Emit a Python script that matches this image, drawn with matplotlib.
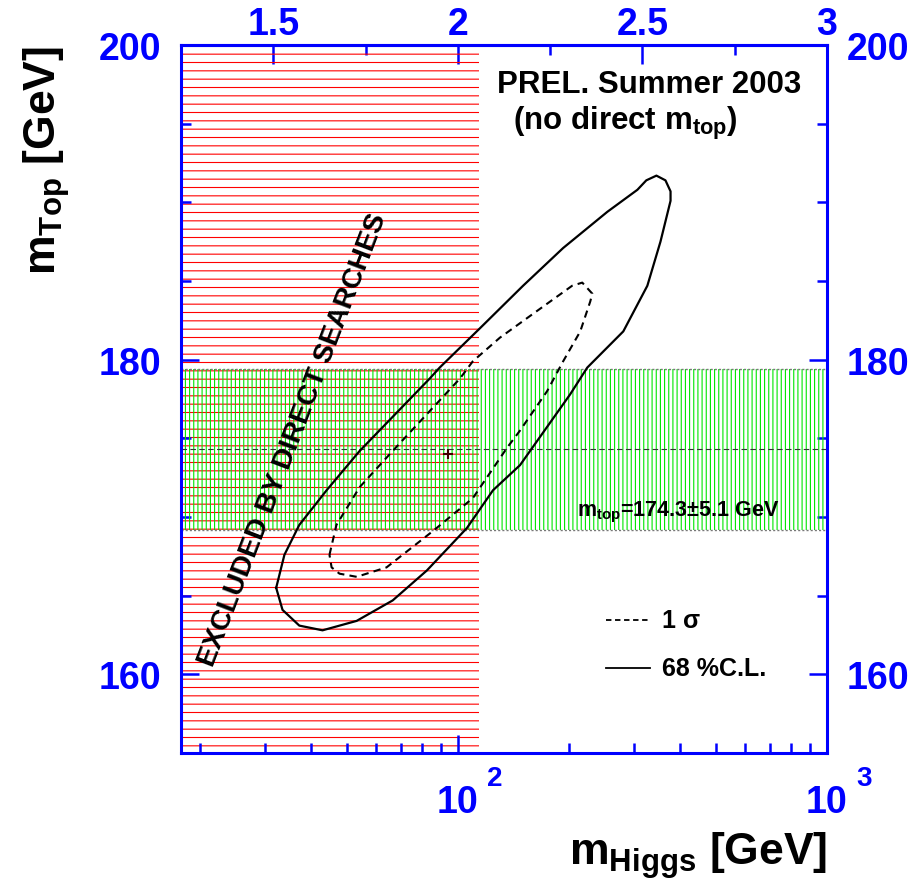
import numpy as np
import matplotlib
matplotlib.use('Agg')
import matplotlib.pyplot as plt
from matplotlib.ticker import MultipleLocator, LogLocator, NullFormatter, FixedLocator
from matplotlib.lines import Line2D

plt.rcParams['font.family'] = ['Liberation Sans', 'DejaVu Sans']
plt.rcParams['font.weight'] = 'bold'
plt.rcParams['mathtext.default'] = 'regular'
plt.rcParams['hatch.linewidth'] = 0.8

# 68% C.L. contour (m_Higgs [GeV], m_top [GeV])
higgs_68 = [32.2, 33.9, 37.2, 44.1, 54.2, 83.9, 89.3, 114.8, 150.2, 192.9, 254.1, 306.5,
            324.0, 345.1, 365.1, 376.9, 376.9, 353.9, 326.1, 280.7, 224.2, 201.5, 147.4,
            124.5, 105.8, 82.4, 66.6, 53.2, 43.0, 37.2, 33.5]
top_68 = [165.5, 167.6, 169.5, 171.7, 174.2, 178.8, 179.5, 182.0, 184.7, 187.1, 189.4, 190.8,
          191.4, 191.7, 191.4, 190.7, 190.1, 187.5, 184.7, 181.8, 179.5, 177.8, 173.3,
          171.7, 169.3, 166.6, 164.7, 163.4, 162.8, 163.1, 164.1]

# 1 sigma contour
higgs_1s = [44.9, 46.9, 54.2, 66.6, 101.3, 109.8, 130.0, 163.9, 204.0, 217.3, 231.3, 228.4,
            214.6, 192.9, 174.5, 147.4, 135.9, 109.8, 85.5, 64.1, 53.2, 47.8, 45.5]
top_1s = [167.6, 169.5, 171.9, 174.2, 178.8, 179.9, 181.4, 183.1, 184.7, 184.9, 184.2, 183.7,
          181.8, 179.9, 178.0, 175.5, 174.4, 171.2, 169.1, 166.8, 166.2, 166.4, 166.8]

fit_higgs = 94.0
fit_top = 174.0
mtop_meas = 174.3
mtop_err = 5.1
higgs_excluded = 114.4

x_range = (10**1.25, 1000)
y_range = (155, 200)
decades = [100, 1000]
decade_exp = ['2', '3']
top_ticks = [1.5, 2.0, 2.5, 3.0]
top_labels = ['1.5', '2', '2.5', '3']
top_minor = [1.75, 2.25, 2.75]

fig = plt.figure(figsize=(9.15, 8.87), dpi=100)
ax = fig.add_axes([0.1978, 0.1499, 0.706, 0.7982])
ax.set_xscale('log')
ax.set_xlim(*x_range)
ax.set_ylim(*y_range)

# excluded region: horizontal red hatching
ax.axvspan(x_range[0], higgs_excluded, facecolor='none', edgecolor='#ff0000',
           hatch='--', lw=0, zorder=1)

# measured m_top band: vertical green hatching
lo, hi = mtop_meas - mtop_err, mtop_meas + mtop_err
ax.axhspan(lo, hi, facecolor='none', edgecolor='#00e600', hatch='||||', lw=0, zorder=2)
ax.axhline(lo, color='#777777', lw=1.0, ls=(0, (1.5, 1.5)), zorder=3)
ax.axhline(hi, color='#777777', lw=1.0, ls=(0, (1.5, 1.5)), zorder=3)
ax.axhline(mtop_meas, color='#333333', lw=0.8, ls=(0, (5, 3)), zorder=3)

# contours
ax.plot(higgs_68 + higgs_68[:1], top_68 + top_68[:1], color='black', lw=1.6, zorder=5)
ax.plot(higgs_1s + higgs_1s[:1], top_1s + top_1s[:1], color='black', lw=1.5,
        ls=(0, (3.5, 2.5)), zorder=5)
ax.plot([fit_higgs], [fit_top], marker='+', ms=7, mew=1.5, color='#400000', zorder=6)

# texts
ax.text(0.489, 0.934, 'PREL. Summer 2003', transform=ax.transAxes, fontsize=22.5,
        fontweight='bold', ha='left', va='baseline')
ax.text(0.514, 0.881, '(no direct $m_{top}$)', transform=ax.transAxes, fontsize=22.5,
        fontweight='bold', ha='left', va='baseline')
ax.text(0.174, 0.4435, 'EXCLUDED BY DIRECT SEARCHES', transform=ax.transAxes,
        fontsize=20.5, fontweight='bold', rotation=69, ha='center', va='center',
        rotation_mode='anchor', zorder=7)
ax.text(0.613, 0.335, '$m_{top}$=174.3\u00b15.1 GeV', transform=ax.transAxes,
        fontsize=15.5, fontweight='bold', ha='left', va='baseline', zorder=7)

# legend
ax.add_line(Line2D([0.658, 0.726], [0.188, 0.188], transform=ax.transAxes,
                   color='black', lw=1.3, ls=(0, (3, 2))))
ax.add_line(Line2D([0.658, 0.726], [0.120, 0.120], transform=ax.transAxes,
                   color='black', lw=1.3))
ax.text(0.745, 0.188, '1 \u03c3', transform=ax.transAxes, fontsize=18,
        fontweight='bold', ha='left', va='center')
ax.text(0.745, 0.120, '68 %C.L.', transform=ax.transAxes, fontsize=18,
        fontweight='bold', ha='left', va='center')

# axes styling
for s in ax.spines.values():
    s.set_color('blue')
    s.set_linewidth(2.2)
    s.set_zorder(10)

ax.yaxis.set_major_locator(MultipleLocator(20))
ax.yaxis.set_minor_locator(MultipleLocator(5))
ax.xaxis.set_major_locator(LogLocator(base=10))
ax.xaxis.set_minor_locator(LogLocator(base=10, subs=np.arange(2, 10)))
ax.xaxis.set_major_formatter(NullFormatter())
ax.xaxis.set_minor_formatter(NullFormatter())

ax.tick_params(which='both', direction='in', colors='blue', width=1.8,
               top=False, right=True, labelright=True, labelleft=True, labelsize=27)
ax.tick_params(which='major', length=13)
ax.tick_params(which='minor', length=7)
ax.tick_params(axis='y', which='major', pad=14.5)
for lab in ax.get_yticklabels():
    lab.set_fontweight('bold')

# ROOT-style 10^n labels on the bottom axis
for d, e in zip(decades, decade_exp):
    ax.annotate('10', xy=(d, 0), xycoords=('data', 'axes fraction'), xytext=(0, -22),
                textcoords='offset points', ha='center', va='top', fontsize=27,
                fontweight='bold', color='blue', annotation_clip=False)
    ax.annotate(e, xy=(d, 0), xycoords=('data', 'axes fraction'), xytext=(21, -8.5),
                textcoords='offset points', ha='left', va='top', fontsize=20,
                fontweight='bold', color='blue', annotation_clip=False)

# log10(m_Higgs) on top
sec = ax.secondary_xaxis('top', functions=(np.log10, lambda v: 10**v))
sec.xaxis.set_major_locator(FixedLocator(top_ticks))
sec.xaxis.set_minor_locator(FixedLocator(top_minor))
sec.xaxis.set_minor_formatter(NullFormatter())
sec.set_xticks(top_ticks, top_labels)
sec.tick_params(which='both', direction='in', colors='blue', width=1.8, labelsize=27, pad=2.5)
sec.tick_params(which='major', length=14)
sec.tick_params(which='minor', length=7)
sec.spines['top'].set_color('blue')
sec.spines['top'].set_linewidth(2.2)
for lab in sec.get_xticklabels():
    lab.set_fontweight('bold')

ax.set_xlabel('$m_{Higgs}$ [GeV]', fontsize=32, fontweight='bold', loc='right')
ax.xaxis.set_label_coords(1.0, -0.107)
ax.set_ylabel('$m_{Top}$ [GeV]', fontsize=32, fontweight='bold', loc='top')
ax.yaxis.set_label_coords(-0.169, 1.0)

fig.savefig('out.png', dpi=100)
